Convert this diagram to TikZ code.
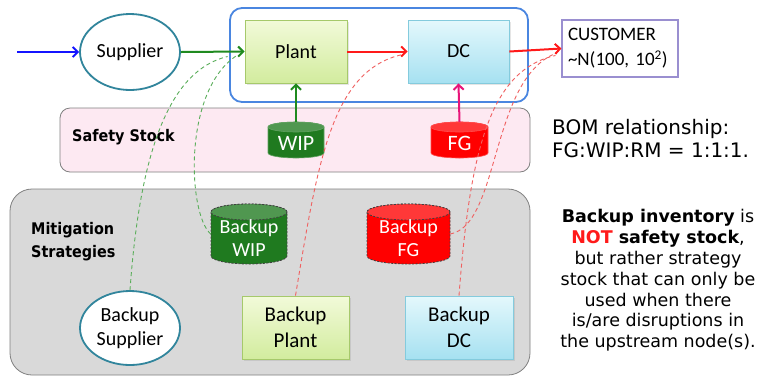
\documentclass[tikz,border=0pt]{standalone}
\usepackage{fontspec}
\setmainfont{Carlito}
\newfontfamily\verd{DejaVu Sans}
\newfontfamily\heavy{DejaVu Sans Condensed}
\usetikzlibrary{shapes.geometric,arrows.meta,shadows}
\definecolor{tealc}{HTML}{31859C}
\definecolor{grn}{HTML}{1F8A1F}
\definecolor{redc}{HTML}{FF1A1A}
\definecolor{pinkc}{HTML}{E8157A}
\definecolor{bluec}{HTML}{1414FF}
\definecolor{contc}{HTML}{4A86E0}
\definecolor{pinkbg}{HTML}{FDE9F2}
\definecolor{graybg}{HTML}{D9D9D9}
\definecolor{panelc}{HTML}{808080}
\definecolor{custc}{HTML}{9A8FD0}
\definecolor{dgreen}{HTML}{5AAE5A}
\definecolor{dred}{HTML}{F06060}
\definecolor{wipc}{HTML}{1F7A1F}
\definecolor{fgc}{HTML}{FF0000}
\newcommand\mycyl[7]{%
 \filldraw[#7,fill=#6] ({#1-#4},{#2+#5}) -- ({#1-#4},{#3-#5}) arc[start angle=180,end angle=0,x radius=#4,y radius=#5] -- ({#1+#4},{#2+#5}) arc[start angle=0,end angle=-180,x radius=#4,y radius=#5] -- cycle;
 \filldraw[#7,fill=#6!78!white] (#1,{#2+#5}) ellipse[x radius=#4,y radius=#5];
}
\begin{document}
\begin{tikzpicture}[x=1pt,y=-1pt,
  panel/.style={draw=panelc,line width=0.8pt},
  plantbox/.style={top color={rgb,255:red,242;green,250;blue,217},bottom color={rgb,255:red,210;green,236;blue,158},draw={rgb,255:red,166;green,201;blue,107},line width=0.8pt,drop shadow={shadow xshift=1.5pt,shadow yshift=-1.5pt,opacity=0.2},font=\fontsize{20}{26}\selectfont,align=center},
  dcbox/.style={top color={rgb,255:red,228;green,248;blue,252},bottom color={rgb,255:red,166;green,225;blue,241},draw={rgb,255:red,132;green,203;blue,221},line width=0.8pt,drop shadow={shadow xshift=1.5pt,shadow yshift=-1.5pt,opacity=0.2},font=\fontsize{20}{26}\selectfont,align=center},
  supp/.style={ellipse,draw=tealc,line width=1.8pt,fill=white,inner sep=0pt,font=\fontsize{20}{24}\selectfont,align=center},
  cyltext/.style={text=white,inner sep=0pt,align=center},
  arr/.style={line width=2pt,-{Straight Barb[length=5pt,width=10pt]}},
  dsh/.style={line width=0.9pt,dash pattern=on 4pt off 3pt}]
\useasboundingbox (0,0) rectangle (760,376);
\fill[white] (0,0) rectangle (760,376);
% panels
\node[panel,fill=graybg,rounded corners=22pt,minimum width=520,minimum height=186] (mit) at (270,282) {};
\node[panel,fill=pinkbg,rounded corners=10pt,minimum width=470,minimum height=64] (ss) at (295,140) {};
\node[draw=contc,line width=1.8pt,rounded corners=12pt,minimum width=298,minimum height=94] (cont) at (379,55) {};
% labels in panels
\node[anchor=west,inner sep=0pt,font=\heavy\bfseries\fontsize{16}{18}\selectfont] (sslab) at (72,137) {Safety Stock};
\node[anchor=west,inner sep=0pt,align=left,font=\heavy\bfseries\fontsize{16}{23}\selectfont] (mitlab) at (31,241.5) {Mitigation\\Strategies};
% main nodes
\node[supp,minimum width=100,minimum height=76] (sup) at (130,52) {Supplier};
\node[plantbox,minimum width=102,minimum height=63] (plant) at (296,51.5) {Plant};
\node[dcbox,minimum width=101,minimum height=63] (dc) at (458.5,51.5) {DC};
\node[draw=custc,line width=1.1pt,fill=white,minimum height=57,text width=104pt,inner xsep=6pt,align=left,font=\fontsize{19}{25}\selectfont] (cust) at (620,48.5) {CUSTOMER\\\textasciitilde N(100,~10\textsuperscript{2})};
\coordinate (in) at (17,52);
% cylinders
\mycyl{296}{122}{158}{28}{5}{wipc}{draw=wipc!70!white,line width=0.6pt}
\node[cyltext,minimum width=56,minimum height=36] (wip) at (296,140) {};
\node[cyltext,font=\fontsize{22}{24}\selectfont] at (296,143) {WIP};
\mycyl{459.5}{122}{158}{28.5}{5}{fgc}{draw=fgc!70!white,line width=0.6pt}
\node[cyltext,minimum width=57,minimum height=36] (fg) at (459.5,140) {};
\node[cyltext,font=\fontsize{22}{24}\selectfont] at (459.5,143) {FG};
\mycyl{249}{204}{264}{38}{8}{wipc}{draw=black!75,dash pattern=on 2pt off 1.5pt,line width=0.8pt}
\node[cyltext,minimum width=76,minimum height=60] (bwip) at (249,234) {};
\node[cyltext,font=\fontsize{20}{23}\selectfont] at (249,238) {Backup\\WIP};
\mycyl{408.5}{204}{264}{41.5}{8}{fgc}{draw=black!75,dash pattern=on 2pt off 1.5pt,line width=0.8pt}
\node[cyltext,minimum width=83,minimum height=60] (bfg) at (408.5,234) {};
\node[cyltext,font=\fontsize{20}{23}\selectfont] at (408.5,238) {Backup\\FG};
% backup nodes
\node[supp,minimum width=100,minimum height=74,font=\fontsize{20}{24}\selectfont] (bsup) at (130,328) {Backup\\Supplier};
\node[plantbox,minimum width=107,minimum height=63,font=\fontsize{21}{26}\selectfont] (bplant) at (295.5,327.5) {Backup\\Plant};
\node[dcbox,minimum width=108,minimum height=63,font=\fontsize{21}{26}\selectfont] (bdc) at (459,327.5) {Backup\\DC};
% arrows
\draw[arr,bluec] (in) -- (sup.west);
\draw[arr,grn] (sup.east) -- (plant.west);
\draw[arr,redc] (plant.east) -- (dc.west);
\draw[arr,redc] (dc.east) -- (cust.west);
\draw[arr,grn] (wip.north) -- (plant.south);
\draw[arr,pinkc] (fg.north) -- (dc.south);
% dashed backup links
\draw[dsh,dgreen] (bsup.north) .. controls (140,150) and (170,70) .. ([xshift=-17pt,yshift=-5pt]plant.west);
\draw[dsh,dgreen] (bwip.west) .. controls (188,215) and (182,90) .. ([xshift=-7pt,yshift=-3.5pt]plant.west);
\draw[dsh,dred] (bplant.north) .. controls (318,160) and (332,70) .. ([xshift=-5pt,yshift=-3pt]dc.west);
\draw[dsh,dred] (bfg.east) .. controls (500,225) and (490,80) .. ([xshift=-6pt,yshift=-5pt]cust.west);
\draw[dsh,dred] (bdc.north) .. controls (470,150) and (490,70) .. ([xshift=-6pt,yshift=-7pt]cust.west);
% side texts
\node[anchor=west,inner sep=0pt,align=left,font=\verd\fontsize{20}{23}\selectfont] (bom) at (552,138.5) {BOM relationship:\\FG:WIP:RM = 1:1:1.};
\node[inner sep=0pt,align=center,font=\verd\fontsize{17.5}{20.8}\selectfont] (note) at (658,280.5) {\textbf{Backup inventory} is\\\textbf{\textcolor{redc}{NOT} safety stock},\\but rather strategy\\stock that can only be\\used when there\\is/are disruptions in\\the upstream node(s).};
\end{tikzpicture}
\end{document}
